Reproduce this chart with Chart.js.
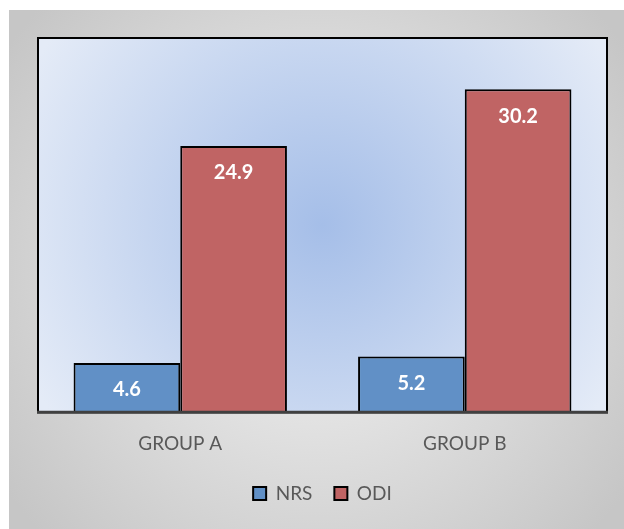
<!DOCTYPE html>
<html>
<head>
<meta charset="utf-8">
<script src="https://cdn.jsdelivr.net/npm/chart.js@4"></script>
<style>
  html, body { margin: 0; padding: 0; background: #ffffff; }
  #wrap { position: relative; width: 624px; height: 529px; }
</style>
</head>
<body>
<div id="wrap"><canvas id="chart"></canvas></div>
<script>
// Chart data
const categories = [ 'GROUP A', 'GROUP B' ];
const nrsValues = [ 4.6, 5.2 ];
const odiValues = [ 24.9, 30.2 ];
const seriesNames = [ 'NRS', 'ODI' ];

const FONT = 'Lato, "Noto Sans", sans-serif';

// Panel + plot backgrounds
const backgroundPlugin = {
    id: 'backgrounds',
    beforeDraw ( chart )
    {
        const ctx = chart.ctx;
        const a = chart.chartArea;

        // outer panel
        const px = 9, py = 10, pw = chart.width - px, ph = chart.height - py;
        let g = ctx.createRadialGradient( px + pw / 2, py + ph / 2, 0, px + pw / 2, py + ph / 2, pw * 0.62 );
        g.addColorStop( 0, '#f4f4f4' );
        g.addColorStop( 1, '#c6c6c6' );
        ctx.save();
        ctx.fillStyle = g;
        ctx.fillRect( px, py, pw, ph );

        // plot area
        const cx = ( a.left + a.right ) / 2, cy = ( a.top + a.bottom ) / 2;
        g = ctx.createRadialGradient( cx, cy, 0, cx, cy, ( a.right - a.left ) * 0.58 );
        g.addColorStop( 0, '#a5bee8' );
        g.addColorStop( 1, '#e4ebf7' );
        ctx.fillStyle = g;
        ctx.fillRect( a.left, a.top, a.right - a.left, a.bottom - a.top );

        ctx.strokeStyle = '#000000';
        ctx.lineWidth = 2;
        ctx.strokeRect( a.left, a.top, a.right - a.left, a.bottom - a.top );
        ctx.restore();
    },
    afterDatasetsDraw ( chart )
    {
        const ctx = chart.ctx;
        const a = chart.chartArea;

        // baseline
        ctx.save();
        ctx.strokeStyle = '#404040';
        ctx.lineWidth = 3;
        ctx.beginPath();
        ctx.moveTo( a.left - 1, a.bottom );
        ctx.lineTo( a.right + 1, a.bottom );
        ctx.stroke();

        // value labels
        ctx.fillStyle = '#ffffff';
        ctx.font = 'bold 20px ' + FONT;
        ctx.textAlign = 'center';
        ctx.textBaseline = 'middle';
        chart.data.datasets.forEach( ( ds, i ) =>
        {
            chart.getDatasetMeta( i ).data.forEach( ( bar, j ) =>
            {
                ctx.fillText( ds.data[ j ].toFixed( 1 ), bar.x, bar.y + 27 );
            } );
        } );
        ctx.restore();
    }
};

new Chart( document.getElementById( 'chart' ), {
    type: 'bar',
    data: {
        labels: categories,
        datasets: [
            {
                label: seriesNames[ 0 ],
                data: nrsValues,
                backgroundColor: '#6190c6',
                borderColor: '#000000',
                borderWidth: 2
            },
            {
                label: seriesNames[ 1 ],
                data: odiValues,
                backgroundColor: '#c06464',
                borderColor: '#000000',
                borderWidth: 2
            }
        ]
    },
    options: {
        responsive: true,
        maintainAspectRatio: false,
        animation: false,
        layout: {
            padding: { left: 38, top: 38, right: 17, bottom: 16 }
        },
        datasets: {
            bar: { categoryPercentage: 0.75, barPercentage: 1.0 }
        },
        scales: {
            x: {
                grid: { display: false },
                border: { display: false },
                ticks: {
                    color: '#595959',
                    padding: 12,
                    font: { size: 19, family: FONT }
                },
                afterFit ( scale )
                {
                    scale.height -= 5;
                }
            },
            y: {
                display: false,
                min: 0,
                max: 35
            }
        },
        plugins: {
            legend: {
                position: 'bottom',
                labels: {
                    color: '#595959',
                    boxWidth: 13,
                    boxHeight: 13,
                    padding: 22,
                    font: { size: 19, family: FONT },
                    generateLabels ( chart )
                    {
                        return chart.data.datasets.map( ( ds, i ) => ( {
                            text: ds.label,
                            fillStyle: ds.backgroundColor,
                            strokeStyle: '#000000',
                            lineWidth: 2,
                            fontColor: '#595959',
                            datasetIndex: i
                        } ) );
                    }
                }
            },
            tooltip: { enabled: false }
        }
    },
    plugins: [ backgroundPlugin ]
} );
</script>
</body>
</html>
